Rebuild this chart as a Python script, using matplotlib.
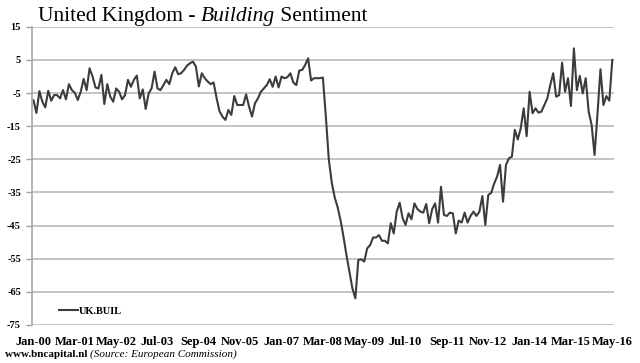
import matplotlib
matplotlib.use('Agg')
import matplotlib.pyplot as plt

# UK building sentiment (EC survey), monthly Jan-00 .. May-16
uk_buil = [
    -7.2, -11.0, -4.4, -7.6, -9.3, -4.3, -7.3, -5.6, -5.6, -6.6,
    -4.1, -6.9, -2.3, -4.1, -4.9, -7.1, -4.6, -0.7, -4.1, 2.5,
    0.0, -3.3, -3.6, 0.5, -8.3, -2.3, -6.1, -7.6, -3.6, -4.6,
    -6.9, -5.6, -1.0, -3.1, -1.0, 0.3, -6.6, -3.9, -9.8, -5.1,
    -3.6, 1.5, -3.6, -4.1, -2.6, -1.0, -2.3, 1.0, 2.8, 0.7,
    1.0, 2.0, 3.3, 4.0, 4.5, 3.0, -3.0, 1.0, -0.5, -1.5,
    -2.3, -1.8, -6.5, -10.5, -12.1, -13.1, -10.1, -11.6, -5.9, -8.6,
    -8.6, -8.6, -5.4, -9.1, -12.1, -8.1, -6.6, -4.6, -3.6, -2.6,
    -0.8, -3.1, 0.0, -3.3, 0.0, -0.5, -0.2, 1.0, -1.8, -2.6,
    1.8, 2.0, 3.5, 5.5, -1.2, -0.5, -0.5, -0.5, -0.3, -12.0,
    -25.0, -32.0, -36.5, -39.5, -43.5, -48.5, -54.0, -59.0, -64.0, -67.0,
    -55.4, -55.2, -55.9, -51.9, -50.9, -48.6, -48.6, -47.9, -49.6, -49.6,
    -50.4, -44.3, -47.4, -40.8, -38.1, -42.8, -44.8, -41.3, -43.1, -38.3,
    -40.0, -40.8, -41.1, -38.5, -44.3, -40.1, -38.3, -44.1, -33.3, -41.8,
    -42.1, -41.1, -41.3, -47.4, -43.5, -44.1, -41.1, -44.1, -42.1, -40.8,
    -42.1, -40.8, -36.1, -44.8, -35.8, -35.1, -32.3, -30.2, -26.7, -37.8,
    -26.7, -24.7, -24.2, -16.1, -19.0, -15.6, -9.6, -18.0, -4.6, -11.1,
    -9.6, -10.9, -10.6, -8.6, -6.6, -2.6, 1.0, -6.1, -5.6, 4.2,
    -4.6, -0.5, -8.9, 8.5, -4.1, 0.2, -5.1, -0.5, -10.6, -14.6,
    -23.7, -11.1, 2.2, -8.6, -5.9, -7.3, 5.0,
]
tick_labels = ['Jan-00', 'Mar-01', 'May-02', 'Jul-03', 'Sep-04', 'Nov-05', 'Jan-07',
               'Mar-08', 'May-09', 'Jul-10', 'Sep-11', 'Nov-12', 'Jan-14', 'Mar-15', 'May-16']
y_ticks = [15, 5, -5, -15, -25, -35, -45, -55, -65, -75]

serif = 'Liberation Serif'

fig = plt.figure(figsize=(6.4, 3.63), dpi=100)
ax = fig.add_axes([0.05, 0.105, 0.909, 0.821])

months = list(range(len(uk_buil)))
ax.plot(months, uk_buil, color='#3c3c3c', lw=1.5, label='UK.BUIL')

ax.set_xlim(-0.5, len(uk_buil) - 0.5)
ax.set_ylim(-75, 15)
ax.set_yticks(y_ticks)
ax.set_yticklabels([str(v) for v in y_ticks], fontfamily=serif,
                   fontweight='bold', fontsize=7.5)
ax.set_xticks(range(0, len(uk_buil), 14))
ax.set_xticklabels(tick_labels, fontfamily=serif, fontweight='bold', fontsize=9)
ax.tick_params(axis='x', length=0, pad=8)
ax.tick_params(axis='y', length=4, color='#a0a0a0', width=1, pad=4)

ax.grid(axis='y', color='#c4c4c4', lw=1.4)
ax.set_axisbelow(True)
for s in ['top', 'right', 'bottom']:
    ax.spines[s].set_visible(False)
ax.spines['left'].set_color('#a8a8a8')
ax.spines['left'].set_linewidth(1.2)

leg = ax.legend(loc='lower left', bbox_to_anchor=(0.03, 0.0), frameon=False,
                handlelength=1.8, handletextpad=0.1,
                prop={'family': serif, 'weight': 'bold', 'size': 7.5})

# title made of three pieces, middle one italic
fig.canvas.draw()
r = fig.canvas.get_renderer()
x = 38 / 640
for txt, style in [('United Kingdom - ', 'normal'), ('Building', 'italic'), (' Sentiment', 'normal')]:
    t = fig.text(x, 1 - 21 / 363, txt, fontfamily=serif, fontstyle=style,
                 fontsize=15.5, color='black')
    bb = t.get_window_extent(r)
    x += bb.width / 640

# footer
x = 5 / 640
for txt, kw in [('www.bncapital.nl ', dict(fontweight='bold', fontsize=8)),
                ('(Source: European Commission)', dict(fontstyle='italic', fontsize=8))]:
    t = fig.text(x, 1 - 357 / 363, txt, fontfamily=serif, **kw)
    bb = t.get_window_extent(r)
    x += bb.width / 640

plt.savefig('out.png', dpi=100)
